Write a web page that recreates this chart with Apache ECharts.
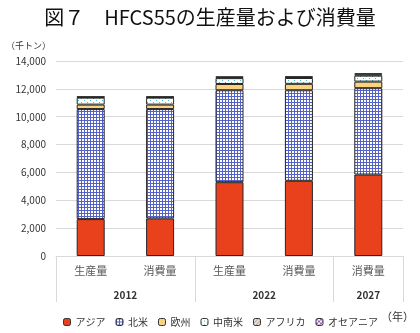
<!DOCTYPE html>
<html><head><meta charset="utf-8">
<script src="https://cdn.jsdelivr.net/npm/echarts@6/dist/echarts.min.js"></script>
<style>html,body{margin:0;padding:0;background:#fff}#c{width:420px;height:333px}</style>
</head><body><div id="c"></div>
<script>
const categories = ['生産量', '消費量', '生産量', '消費量', '消費量'];
const yearLabels = ['2012', '2022', '2027'];
const yTicks = [0, 14000, 2000];
const asia    = [2650, 2700, 5300, 5400, 5850];
const northAm = [7900, 7850, 6600, 6500, 6200];
const europe  = [320, 320, 450, 460, 470];
const latinAm = [500, 500, 420, 420, 430];
const africa  = [40, 40, 60, 60, 90];
const oceania = [30, 30, 50, 50, 80];
const seriesNames = ['アジア', '北米', '欧州', '中南米', 'アフリカ', 'オセアニア'];

function pat(w, h, bg, draw) {
  const c = document.createElement('canvas'); c.width = w; c.height = h;
  const g = c.getContext('2d'); g.fillStyle = bg; g.fillRect(0, 0, w, h); draw(g);
  return {image: c, repeat: 'repeat'};
}
const naPat = pat(3, 3, '#ffffff', g => { g.fillStyle = '#5561c4'; g.fillRect(0, 0, 3, 1); g.fillRect(0, 0, 1, 3); });
const laPat = pat(6, 4, '#ffffff', g => { g.fillStyle = '#3fbcbc'; g.fillRect(0, 0, 1, 1); g.fillRect(3, 2, 1, 1); });
const afPat = pat(4, 4, '#f3e2d6', g => { g.fillStyle = '#8a8a8a'; g.fillRect(0, 0, 1, 1); g.fillRect(2, 2, 1, 1); g.fillRect(1,3,1,1); g.fillRect(3,1,1,1); });
const ocPat = pat(4, 4, '#ffffff', g => { g.fillStyle = '#a05cc0'; g.fillRect(0, 0, 2, 2); g.fillRect(2, 2, 2, 2); });

const fills = ['#e8411c', naPat, '#fdd27e', laPat, afPat, ocPat];
const datas = [asia, northAm, europe, latinAm, africa, oceania];
const FONT = '"Noto Sans CJK JP", "Noto Sans", sans-serif';

const chart = echarts.init(document.getElementById('c'), null, {renderer: 'canvas'});
const yearPos = {1: yearLabels[0], 3: yearLabels[1], 4.5: yearLabels[2]};
chart.setOption({
  animation: false,
  textStyle: {fontFamily: FONT},
  title: [
    {text: '図７　HFCS55の生産量および消費量', left: 'center', top: 2,
     textStyle: {fontSize: 20, fontWeight: 'normal', color: '#111', fontFamily: FONT}},
    {text: '（千トン）', left: 1, top: 36, textStyle: {fontSize: 9, fontWeight: 'normal', color: '#333', fontFamily: FONT}},
    {text: '（年）', right: 1, top: 306, textStyle: {fontSize: 11, fontWeight: 'normal', color: '#333', fontFamily: FONT}}
  ],
  legend: {
    bottom: 1, left: 58, itemWidth: 7, itemHeight: 7, itemGap: 10,
    textStyle: {fontSize: 10, color: '#333', fontFamily: FONT},
    data: seriesNames.map((n) => ({name: n, itemStyle: {borderColor: '#333', borderWidth: 1}}))
  },
  grid: {left: 56, right: 17, top: 61, bottom: 77},
  xAxis: [
    {type: 'category', data: categories,
     axisLine: {lineStyle: {color: '#d9d9d9'}},
     axisTick: {show: true, length: 46, interval: (i) => i === 0 || i === 2 || i === 4, lineStyle: {color: '#d9d9d9'}},
     axisLabel: {interval: 0, margin: 9, fontSize: 11, color: '#595959', fontFamily: FONT}},
    {type: 'value', min: 0, max: 5, interval: 0.5, position: 'bottom', offset: 0,
     axisLine: {show: false}, axisTick: {show: false}, splitLine: {show: false},
     axisLabel: {margin: 34, fontSize: 10, fontWeight: 'bold', color: '#333', fontFamily: FONT, showMinLabel: false, showMaxLabel: false,
       formatter: (v) => yearPos[v] || ''}}
  ],
  yAxis: {type: 'value', min: yTicks[0], max: yTicks[1], interval: yTicks[2],
    axisLine: {show: false}, axisTick: {show: false},
    splitLine: {lineStyle: {color: '#d9d9d9'}},
    axisLabel: {fontSize: 10, color: '#333', margin: 10, fontFamily: FONT}},
  series: datas.map((d, i) => ({
    name: seriesNames[i], type: 'bar', stack: 'total', barWidth: 28, xAxisIndex: 0,
    data: d, itemStyle: {color: fills[i], borderColor: '#262626', borderWidth: 1}
  }))
});
</script></body></html>
